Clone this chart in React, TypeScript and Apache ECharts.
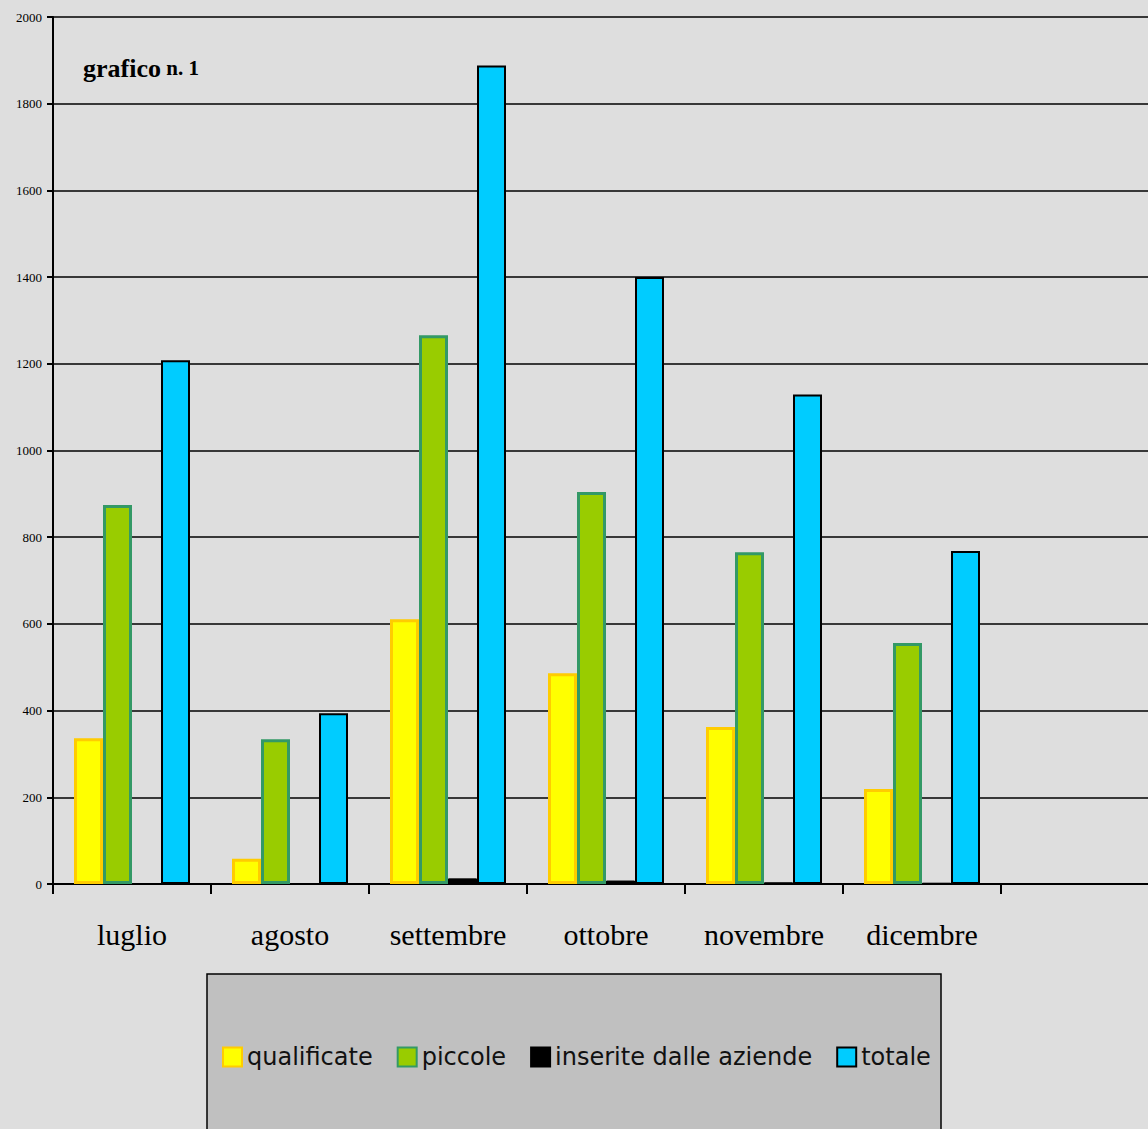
import React, { useEffect, useRef } from "react";
import * as echarts from "echarts";

const categories = ["luglio", "agosto", "settembre", "ottobre", "novembre", "dicembre", ""];
const qualificate = [336, 58, 611, 486, 362, 219, null];
const piccole = [874, 334, 1266, 904, 765, 556, null];
const inserite = [0, 0, 13, 8, 4, 3, null];
const totale = [1208, 394, 1888, 1400, 1129, 768, null];

export default function App() {
  const ref = useRef<HTMLDivElement>(null);
  useEffect(() => {
    const chart = echarts.init(ref.current!, null, { renderer: "svg" });
    const barW = 29;
    chart.setOption({
      animation: false,
      backgroundColor: "#dedede",
      grid: { left: 53, top: 17, right: 11, bottom: 245, containLabel: false },
      title: {
        text: "{a|grafico}{b| n. 1}",
        left: 78,
        top: 50,
        textStyle: {
          rich: {
            a: { fontFamily: "Liberation Serif", fontWeight: "bold", fontSize: 26, color: "#000" },
            b: { fontFamily: "Liberation Serif", fontWeight: "bold", fontSize: 21, color: "#000" },
          },
        },
      },
      graphic: [
        {
          type: "rect",
          shape: { x: 207, y: 974, width: 734, height: 200 },
          style: { fill: "#c0c0c0", stroke: "#000", lineWidth: 1.5 },
          z: -1,
        },
      ],
      legend: {
        left: 217,
        top: 1040,
        icon: "rect",
        itemWidth: 19,
        itemHeight: 19,
        itemGap: 24,
        textStyle: { fontFamily: "DejaVu Sans", fontSize: 24, color: "#111" },
        data: ["qualificate", "piccole", "inserite dalle aziende", "totale"],
      },
      xAxis: {
        type: "category",
        data: categories,
        axisLine: { lineStyle: { color: "#000", width: 2 } },
        axisTick: { show: true, length: 10, lineStyle: { color: "#000", width: 2 } },
        axisLabel: { margin: 35, fontFamily: "Liberation Serif", fontSize: 30, color: "#000", interval: 0 },
      },
      yAxis: {
        type: "value",
        min: 0,
        max: 2000,
        interval: 200,
        axisLine: { show: true, lineStyle: { color: "#000", width: 2 } },
        axisTick: { show: true, length: 6, lineStyle: { color: "#000", width: 2 } },
        axisLabel: {
          margin: 11,
          fontFamily: "Liberation Serif",
          fontSize: 13,
          color: "#000",
          formatter: (v: number) => String(v),
        },
        splitLine: { lineStyle: { color: "#000", width: 1.5 } },
      },
      series: [
        {
          name: "qualificate",
          type: "bar",
          data: qualificate,
          barWidth: barW,
          barGap: "0%",
          itemStyle: { color: "#ffff00", borderColor: "#ffcc00", borderWidth: 3 },
        },
        {
          name: "piccole",
          type: "bar",
          data: piccole,
          barWidth: barW,
          barGap: "0%",
          itemStyle: { color: "#99cc00", borderColor: "#339966", borderWidth: 3 },
        },
        {
          name: "inserite dalle aziende",
          type: "bar",
          data: inserite,
          barWidth: barW,
          barGap: "0%",
          itemStyle: { color: "#000", borderColor: "#000", borderWidth: 1 },
        },
        {
          name: "totale",
          type: "bar",
          data: totale,
          barWidth: barW,
          barGap: "0%",
          itemStyle: { color: "#00ccff", borderColor: "#000", borderWidth: 2 },
        },
      ],
    });
    return () => chart.dispose();
  }, []);
  return (
    <div style={{ position: "absolute", left: 0, top: 0, width: 1148, height: 1129, overflow: "hidden" }}>
      <div ref={ref} style={{ width: 1170, height: 1129 }} />
    </div>
  );
}
